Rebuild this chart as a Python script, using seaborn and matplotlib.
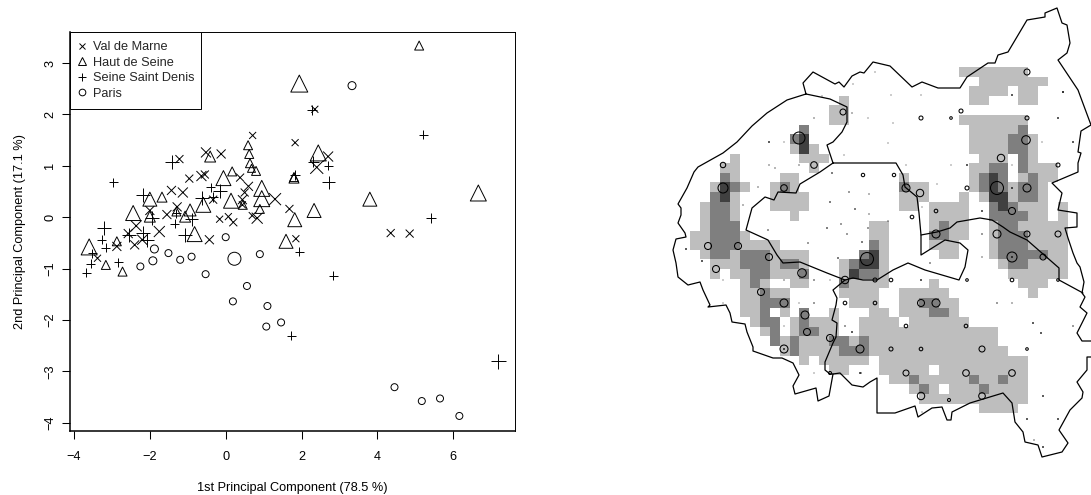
"""PCA scatter of communes (left) and map of clusters with site circles (right)."""

import matplotlib.pyplot as plt
import numpy as np
import seaborn as sns
from matplotlib.colors import ListedColormap
from matplotlib.lines import Line2D
from matplotlib.patches import Rectangle

# ---- left panel: principal components, w = marker width in pixels
vdm_x = [.71, -1.22, -.52, -.12, -.64, -.96, .38, -1.43, -1.13, .6, .5, .44, .44, -.33, -1.55, -1.28, -2,
         -2.36, -1.75, -2.57, -2.4, -2.2, -.43, -.16, .07, .2, .83, .7, -2.87, -3.38, -.55,
         2.35, 1.83, 2.7, 2.4, 1.3, 1.68, 1.85, 4.35, 4.85]
vdm_y = [1.59, 1.13, 1.26, 1.23, .8, .75, .77, .52, .48, .6, .48, .34, .24, .34, .05, .2, .13,
         -.17, -.28, -.32, -.54, -.44, -.44, -.04, .01, -.1, -.02, .03, -.57, -.8, .83,
         2.1, 1.45, 1.18, .97, .35, .16, -.42, -.31, -.32]
vdm_w = [7, 8, 10, 9, 10, 8, 8, 9, 10, 9, 8, 9, 7, 8, 9, 9, 9,
         11, 11, 9, 9, 10, 9, 7, 7, 8, 11, 7, 9, 7, 8,
         7, 7, 10, 13, 12, 8, 7, 8, 8]

hds_x = [.59, .62, .64, .68, .8, -.41, .17, -.06, -1.68, -2, -2.44, .95, .95, .14, -.59, .9, .45, -.94, -1.3,
         -2, -1.07, -.82, -2.87, -3.6, -3.16, -2.72, 5.1, 1.94, 2.44, 1.8, 1.8, 3.8, 6.66, 2.33, 1.82, 1.59]
hds_y = [1.4, 1.23, 1.05, .95, .9, 1.18, .89, .76, .39, .35, .08, .56, .36, .32, .24, .16, .24, .14, .11,
         .01, .01, -.33, -.47, -.58, -.93, -1.06, 3.34, 2.6, 1.25, .76, .78, .35, .47, .13, -.05, -.47]
hds_w = [9, 9, 9, 8, 9, 11, 9, 15, 10, 14, 15, 16, 16, 15, 15, 9, 9, 12, 9,
         11, 11, 15, 9, 16, 9, 9, 9, 17, 16, 10, 9, 14, 16, 14, 14, 14]

ssd_x = [-1.41, -2.96, -2.17, -.62, -.4, -.33, -.15, -1.95, -1.34, -.9, -3.2, -3.27, -2.55, -2.17, -2.08, -1.07,
         -3.16, -3.52, -3.56, -3.67, -2.83, -1.3, 2.27, 5.21, 2.31, 2.7, 2.72, 1.83, 5.41, 1.94, 2.83, 1.73, 7.19]
ssd_y = [1.07, .68, .44, .37, .58, .4, .5, -.02, -.13, -.04, -.21, -.44, -.34, -.3, -.45, -.34,
         -.6, -.7, -.91, -1.08, -.88, .08, 2.08, 1.6, 1.08, 1, .68, .82, -.01, -.67, -1.14, -2.31, -2.81]
ssd_w = [14, 9, 14, 14, 9, 10, 14, 14, 9, 13, 14, 9, 14, 14, 14, 14,
         9, 9, 9, 9, 9, 9, 10, 9, 11, 9, 13, 10, 10, 9, 9, 9, 15]

par_x = [0, -1.88, -1.51, -1.2, -.9, -1.92, -2.25, -.53, .23, .9, .56, .19, 1.1, 1.07, 1.46, 4.45, 5.17, 5.65, 6.16, 3.33]
par_y = [-.39, -.62, -.7, -.83, -.77, -.85, -.96, -1.11, -.81, -.72, -1.34, -1.64, -1.73, -2.13, -2.05, -3.31, -3.58,
         -3.53, -3.87, 2.56]
par_w = [7, 8, 7, 7, 7, 8, 7, 7, 13, 7, 7, 7, 7, 7, 7, 7, 7, 7, 7, 8]

dept_names = ["Val de Marne", "Haut de Seine", "Seine Saint Denis", "Paris"]
x_ticks = [-4, -2, 0, 2, 4, 6]
y_ticks = [-4, -3, -2, -1, 0, 1, 2, 3]

# ---- right panel: cluster raster, one string per row, "a-bL" = columns a to b at level L/M/D
cluster_rows = [
    "27-33L", "29-35L", "28-31L 33-34L", "15L 28-29L 33-34L", "14-15L", "14-15L 27-33L",
    "11M 28-32L 33M", "10M 11D 28-31L 32-33M 34L", "10L 11D 12L 28-31L 32-33M 34L",
    "4L 11-13L 29-31L 33M 34L", "3-4L 12L 28-29L 30-31M 33M 34-36L",
    "3M 4L 9-10L 21L 28L 29M 30D 31M 33L 34M 35-36L",
    "2L 3D 4M 5L 8L 9M 10L 21M 22-23L 28L 29M 30D 31M 32L 33-34M 35L",
    "2M 3D 4L 8-11L 21-23L 27L 29L 30-31D 32L 33-34M 35L",
    "1L 2-3M 4L 8-11L 21-22L 24-27L 30M 31D 32M 33-35L 37L",
    "1L 2-3M 4L 10L 24-27L 30-33M 34-35L 37L",
    "1L 2-4M 18-19L 24L 25M 26-27L 30L 31-32M 33-37L",
    "0-1L 2-4M 5L 18-19L 24-25M 26-27L 30L 31-33M 34-37L",
    "0-1L 2-4M 5-8L 18M 19L 24-26L 30L 31-33M 34-37L",
    "1L 2-3M 4L 5-7M 8-11L 17M 18D 19L 25-26L 30L 31-35M 36-37L",
    "2-4L 5-7M 8L 9-10M 11L 15L 16M 17-18D 19L 31L 32-33M 34-37L",
    "2L 4-5L 6-7M 8-10L 11M 15L 16D 17-18M 19L 32-37L",
    "5L 6M 7L 10-11L 15M 16-19L 24L 33-35L",
    "5-6L 7M 8-9L 15-18L 21-25L 34L",
    "5-6L 7-9M 16-18L 21-22L 23-24M 25-26L",
    "5-6L 7M 9L 11M 14L 18-19L 21-23L 24-25M 26L",
    "6L 7-8M 10L 11M 12-14L 17-20L 22-27L",
    "7L 8M 10L 11-12M 13-14L 17-30L",
    "8M 9L 10M 11-13L 14-15M 16L 17M 18-30L",
    "9L 10M 11-14L 15-17M 18-31L",
    "11L 13-17L 19-33L",
    "14-15L 19-23L 25-33L",
    "20-21L 22M 23-27L 28M 29-30L 31M 32-33L",
    "22L 23M 24L 26-28L 29M 30-33L",
    "23-33L",
    "29-32L",
]
cluster_colors = ["#ffffff", "#bebebe", "#7f7f7f", "#404040"]

# map outlines, in picture pixels
outer_x = [806, 787, 767, 752, 737, 723, 698, 694, 687, 678, 681, 681, 678, 685, 686, 676, 673, 676, 678, 688, 700,
           703, 710, 708, 726, 730, 732, 745, 747, 753, 753, 773, 782, 793, 799, 793, 795, 816, 818, 829, 833, 840,
           852, 863, 870, 877, 877, 895, 915, 918, 932, 942, 947, 951, 952, 970, 980, 1003, 1012, 1015, 1023, 1025,
           1038, 1042, 1062, 1068, 1059, 1070, 1082, 1083, 1077, 1087, 1087, 1095, 1095, 1082, 1077, 1087, 1080,
           1085, 1082, 1084, 1080, 1077, 1073, 1068, 1065, 1077, 1077, 1058, 1062, 1052, 1078, 1078, 1081, 1078,
           1081, 1091, 1078, 1058, 1067, 1070, 1067, 1062, 1057, 1045, 1045, 1027, 1008, 998, 995, 988, 967, 960,
           938, 922, 912, 890, 873, 864, 860, 852, 844, 839, 835, 813, 803, 806]
outer_y = [94, 100, 113, 126, 142, 153, 167, 172, 188, 204, 208, 215, 223, 233, 237, 239, 250, 263, 277, 285, 282,
           290, 305, 307, 305, 313, 322, 324, 332, 347, 351, 358, 358, 363, 375, 386, 394, 388, 401, 396, 374, 373,
           385, 387, 382, 378, 413, 413, 406, 417, 408, 407, 420, 420, 412, 403, 400, 393, 403, 422, 432, 442,
           445, 457, 452, 443, 430, 410, 398, 392, 382, 370, 357, 357, 341, 341, 333, 313, 307,
           297, 293, 282, 267, 263, 253, 238, 228, 227, 213, 210, 193, 183, 172, 163, 153, 152,
           131, 125, 90, 60, 53, 43, 25, 23, 8, 13, 17, 20, 52, 55, 63, 63, 77, 88,
           88, 82, 87, 66, 62, 73, 72, 76, 87, 82, 84, 72, 83, 94]
paris_x = [833, 860, 896, 903, 905, 917, 919, 921, 921, 945, 960, 968, 965, 959, 925, 908, 893, 877, 863, 853, 845,
           827, 800, 783, 777, 768, 746, 752, 765, 774, 778, 796, 800, 820, 833]
paris_y = [163, 163, 163, 175, 187, 197, 213, 235, 255, 240, 243, 250, 267, 280, 270, 263, 270, 280, 280, 278, 280,
           273, 262, 263, 255, 240, 230, 208, 197, 200, 192, 193, 184, 172, 163]
hds_north_x = [833, 827, 833, 842, 847, 847, 830, 806]
hds_north_y = [163, 145, 142, 132, 122, 107, 99, 94]
hds_vdm_x = [845, 833, 837, 836, 832, 837, 836, 833, 825, 825, 830, 833]
hds_vdm_y = [280, 290, 298, 305, 320, 323, 337, 343, 362, 370, 374, 374]
ssd_vdm_x = [921, 937, 950, 957, 980, 992, 1003, 1010, 1027, 1059, 1059, 1083]
ssd_vdm_y = [235, 232, 228, 222, 218, 220, 227, 232, 240, 268, 280, 293]

# sampling sites with a visible ring, radius in pixels
site_x = [843, 799, 723, 814, 723, 784, 863, 1027, 961, 921, 951, 1027, 1026, 1001, 1058, 894, 906, 920, 967, 997,
          1027, 936, 1012, 912, 936, 997, 1027, 1058, 708, 738, 769, 716, 802, 867, 845, 761, 784, 845, 805, 807,
          830, 860, 784, 830, 1012, 1043, 875, 891, 1012, 1058, 967, 921, 936, 875, 906, 966, 891, 921, 982, 1027,
          906, 966, 1012, 921, 982, 949]
site_y = [112, 138, 165, 165, 188, 188, 175, 72, 111, 118, 118, 118, 140, 158, 165, 175, 188, 193, 188, 188,
          188, 211, 211, 217, 234, 234, 234, 234, 246, 246, 257, 269, 273, 259, 280, 292, 303, 303, 315, 332,
          338, 349, 349, 373, 257, 257, 280, 280, 280, 280, 280, 303, 303, 303, 326, 326, 349, 349, 349, 349,
          373, 373, 373, 396, 396, 400]
site_r = [3, 6, 2.7, 3.3, 5, 3.3, 1.7, 3, 2, 2, 1.3, 2, 4.3, 3.7, 2, 1.7, 4, 3.7, 2, 6.5,
          4, 1.8, 3.5, 1.8, 4, 4, 3, 3, 3.5, 3.5, 3.5, 3.5, 4.3, 6.5, 3.7, 3.5, 4, 1.8, 4, 3.5,
          3.5, 4, 4, 1.5, 5, 3, 2, 1.8, 1.8, 1.3, 1.3, 3.5, 4, 1.8, 1.8, 1.8, 2, 1.8, 3, 1.3,
          3, 3.3, 3.3, 3.7, 3.3, 1.5]

# tiny sites drawn as dots
dot_x = [853, 822, 814, 852, 868, 769, 784, 769, 775, 799, 844, 832, 758, 743, 849, 869, 830, 855, 869, 841, 827, 868,
         847, 768, 875, 891, 921, 893, 888, 906, 951, 967, 1012, 1042, 1073, 1063, 1012, 1058, 937, 922, 982, 888,
         982, 686, 702, 808, 862, 838, 723, 784, 814, 830, 799, 723, 814, 784, 845, 852, 814, 860, 982, 930,
         921, 997, 1012, 1033, 1041, 1073, 861, 1043, 1027, 1058, 1034, 1043, 922, 784, 1012, 1012]
dot_y = [84, 96, 118, 113, 118, 142, 142, 165, 168, 165, 155, 173, 187, 205, 192, 194, 202, 209, 214, 224, 228, 228,
         234, 230, 72, 95, 95, 123, 143, 165, 165, 165, 165, 142, 142, 92, 95, 118, 184, 207, 211, 221,
         234, 249, 261, 243, 242, 258, 280, 280, 280, 280, 303, 303, 303, 326, 326, 332, 373, 373, 257, 263,
         280, 303, 303, 323, 333, 326, 373, 396, 419, 419, 440, 447, 412, 349, 257, 188]
dot_r = [.5, .5, .6, .6, .5, .9, .5, .6, .6, .6, .5, .8, .6, .6, .7, .6, .8, .8, .6, .7, .8, .7,
         .7, .7, .5, .5, .5, .5, .5, .5, .5, .9, .5, .5, .9, 1, .9, .9, .5, .5, .9, .6,
         .7, .9, .9, .7, .8, .8, .5, .6, .7, .5, .5, .5, .7, .5, .7, .9, .5, .9, .6, .7,
         .9, .7, .6, .9, .9, .7, .7, .9, .9, .9, .6, .9, .5, .9, .9, .9]

WIDTH, HEIGHT = 1091, 495
# where the raster sits in the picture
MAP_LEFT, MAP_TOP, CELL_W, CELL_H = 690, 67, 9.95, 9.62


def to_points(width_px):
    return (np.asarray(width_px, dtype=float) * 72 / 100) ** 2


def build_raster(rows, n_cols=38):
    levels = {"L": 1, "M": 2, "D": 3}
    raster = np.zeros((len(rows), n_cols))
    for i, row in enumerate(rows):
        for span in row.split():
            first, _, last = span[:-1].partition("-")
            raster[i, int(first):int(last or first) + 1] = levels[span[-1]]
    return raster


def cell_x(px):
    return (np.asarray(px, dtype=float) - MAP_LEFT) / CELL_W


def cell_y(py):
    return (np.asarray(py, dtype=float) - MAP_TOP) / CELL_H


sns.set_theme(style="ticks")
plt.rcParams["font.family"] = ["Liberation Sans", "DejaVu Sans"]

fig = plt.figure(figsize=(WIDTH / 100, HEIGHT / 100), dpi=100)

# left panel
ax = fig.add_axes([70 / WIDTH, 1 - 431 / HEIGHT, 445 / WIDTH, 399 / HEIGHT])
line_kw = dict(color="black", linewidth=0.7, ax=ax, legend=False)
sns.scatterplot(x=vdm_x, y=vdm_y, s=to_points(vdm_w), marker="x", **line_kw)
sns.scatterplot(x=ssd_x, y=ssd_y, s=to_points(ssd_w), marker="+", **line_kw)
open_kw = dict(facecolor="none", edgecolor="black", linewidth=0.7, ax=ax, legend=False)
sns.scatterplot(x=hds_x, y=hds_y, s=to_points(hds_w), marker="^", **open_kw)
sns.scatterplot(x=par_x, y=par_y, s=to_points(par_w), marker="o", **open_kw)

ax.set_xlim(-4.105, 7.627)
ax.set_ylim(-4.163, 3.604)
ax.set_xticks(x_ticks)
ax.set_yticks(y_ticks)
ax.set_xticklabels([str(t).replace("-", "\u2212") for t in x_ticks])
ax.set_yticklabels([str(t).replace("-", "\u2212") for t in y_ticks], rotation=90, va="center")
ax.tick_params(length=5.5, width=0.75, labelsize=9.2, color="black", labelcolor="black")
ax.tick_params(axis="x", pad=9)
ax.tick_params(axis="y", pad=4.5)
for side, spine in ax.spines.items():
    spine.set_visible(True)
    spine.set_color("black")
    spine.set_linewidth(1.1 if side in ("left", "bottom") else 0.7)
ax.set_xlabel("1st Principal Component (78.5 %)", fontsize=9.2, color="black", va="center")
ax.set_ylabel("2nd Principal Component (17.1 %)", fontsize=9.2, color="black", va="center")
ax.xaxis.set_label_coords(0.5, -57 / 399)
ax.yaxis.set_label_coords(-50 / 445, 0.5)

# legend frame drawn apart so its box and rows can be placed independently
ax.add_patch(Rectangle((0, 1), 131 / 445, -77 / 399, transform=ax.transAxes, facecolor="white",
                       edgecolor="black", linewidth=0.7, zorder=4))
handles = [
    Line2D([], [], ls="none", marker="x", ms=5, mew=0.7, color="black"),
    Line2D([], [], ls="none", marker="^", ms=6.2, mew=0.7, mfc="none", color="black"),
    Line2D([], [], ls="none", marker="+", ms=6, mew=0.7, color="black"),
    Line2D([], [], ls="none", marker="o", ms=4.8, mew=0.7, mfc="none", color="black"),
]
leg = ax.legend(handles, dept_names, loc="upper left", bbox_to_anchor=(6.5 / 445, 1 - 9 / 399), borderaxespad=0,
                borderpad=0, fontsize=9.2, frameon=False, handlelength=0.9, handletextpad=0.39, labelspacing=0.28)
leg.set_zorder(5)

# right panel
map_ax = fig.add_axes([MAP_LEFT / WIDTH, 1 - (MAP_TOP + 36 * CELL_H) / HEIGHT, 38 * CELL_W / WIDTH,
                       36 * CELL_H / HEIGHT])
sns.heatmap(build_raster(cluster_rows), ax=map_ax, cmap=ListedColormap(cluster_colors), vmin=0, vmax=3,
            cbar=False, xticklabels=False, yticklabels=False, rasterized=True)

for xs, ys in [(outer_x, outer_y), (paris_x, paris_y), (hds_north_x, hds_north_y),
               (hds_vdm_x, hds_vdm_y), (ssd_vdm_x, ssd_vdm_y)]:
    map_ax.plot(cell_x(xs), cell_y(ys), color="black", linewidth=0.9, clip_on=False, solid_joinstyle="round")

map_ax.scatter(cell_x(site_x), cell_y(site_y), s=to_points(np.asarray(site_r) * 2), facecolors="none",
               edgecolors="black", linewidths=0.75, clip_on=False, zorder=3)
map_ax.scatter(cell_x(dot_x), cell_y(dot_y), s=to_points(np.asarray(dot_r) * 2), color="black", linewidths=0,
               clip_on=False, zorder=3)
map_ax.set_xlim(0, 38)
map_ax.set_ylim(36, 0)
map_ax.axis("off")

fig.savefig("out.png", dpi=100)
